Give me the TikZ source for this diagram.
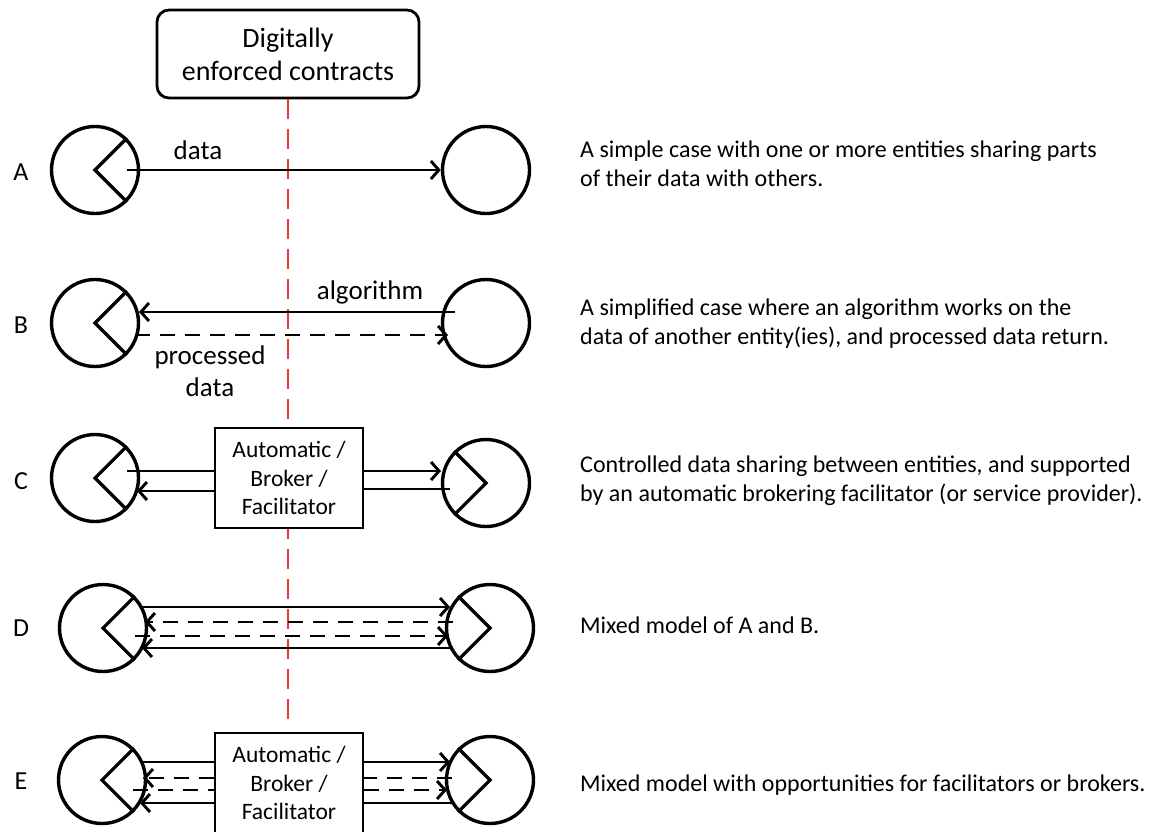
\documentclass[tikz,border=0pt]{standalone}
\usepackage{fontspec}
\setmainfont{Carlito}
\usetikzlibrary{arrows.meta,calc}
\definecolor{contractred}{RGB}{228,58,58}
\begin{document}
\begin{tikzpicture}[x=1pt,y=-1pt,
  party/.style={circle,draw,line width=3.4pt,minimum size=87pt,inner sep=0pt},
  flow/.style={line width=2.9pt},
  flowdash/.style={line width=2.9pt,dash pattern=on 15pt off 10pt},
  endtip/.style={-{Straight Barb[length=8pt,width=18pt]}},
  broker/.style={draw,line width=2.4pt,fill=white,minimum width=148pt,minimum height=100pt,
    align=center,inner sep=0pt,font=\fontsize{23.5}{28.5}\selectfont},
  rowlabel/.style={font=\fontsize{26}{30}\selectfont},
  flowlabel/.style={font=\fontsize{27}{32}\selectfont,align=center},
  caption/.style={anchor=base west,inner sep=0pt,font=\fontsize{24}{29}\selectfont},
]
\useasboundingbox (0,0) rectangle (1153,831);

% contract box and the boundary line below it
\node[draw,line width=2.8pt,rounded corners=12pt,minimum width=262pt,minimum height=88pt,
  align=center,inner sep=0pt,font=\fontsize{28}{33}\selectfont] (top) at (288,54)
  {Digitally\\enforced contracts};
\coordinate (redend) at (288,727);
\draw[contractred,line width=2.7pt,dash pattern=on 20pt off 10pt] (top.south) -- (redend);

% row letters
\node[rowlabel] (lA) at (21,172) {A};
\node[rowlabel] (lB) at (21,325) {B};
\node[rowlabel] (lC) at (21,481) {C};
\node[rowlabel] (lD) at (21,628) {D};
\node[rowlabel] (lE) at (21,781) {E};

% entities
\node[party] (aL) at (95,170) {};
\node[party] (aR) at (486,170) {};
\node[party] (bL) at (95,323) {};
\node[party] (bR) at (486,323) {};
\node[party] (cL) at (95,478) {};
\node[party] (cR) at (486,483) {};
\node[party] (dL) at (103,628) {};
\node[party] (dR) at (490,628) {};
\node[party] (eL) at (102,780) {};
\node[party] (eR) at (490,780) {};

% wedges inside the entities
\foreach \n in {aL,bL,cL,dL,eL}
  \draw[line width=3.2pt] (\n.45) -- (\n.center) -- (\n.-45);
\foreach \n in {cR,dR,eR}
  \draw[line width=3.2pt] (\n.135) -- (\n.center) -- (\n.-135);

% brokers
\node[broker] (cB) at (289,478) {Automatic /\\Broker /\\Facilitator};
\node[broker] (eB) at (289,783) {Automatic /\\Broker /\\Facilitator};

% A
\draw[flow,endtip] ($(aL.center)+(32,0)$) -- (aR.west);
\node[flowlabel] (ldata) at (198,150) {data};

% B
\draw[flow,endtip] ($(bR.center)+(-31,-11)$) -- ($(bL.center)+(44,-11)$);
\draw[flowdash,endtip] ($(bL.center)+(40,12)$) -- ($(bR.center)+(-38,12)$);
\node[flowlabel] (lalg) at (370,292) {algorithm};
\node[flowlabel] (lproc) at (210,371) {processed\\data};

% C
\draw[flow] ($(cL.center)+(32,-7)$) -- ($(cB.west)+(0,-7)$);
\draw[flow,endtip] ($(cB.west)+(0,13)$) -- ($(cL.center)+(42,13)$);
\draw[flow,endtip] ($(cB.east)+(0,-7)$) -- ($(cR.center)+(-45,-12)$);
\draw[flow] ($(cR.center)+(-36,6)$) -- ($(cB.east)+(0,11)$);

% D
\draw[flow,endtip] ($(dL.center)+(40,-21)$) -- ($(dR.center)+(-40,-21)$);
\draw[flowdash,endtip] ($(dR.center)+(-37,-6)$) -- ($(dL.center)+(42,-6)$);
\draw[flowdash,endtip] ($(dL.center)+(32,8)$) -- ($(dR.center)+(-42,8)$);
\draw[flow,endtip] ($(dR.center)+(-37,20)$) -- ($(dL.center)+(39,20)$);

% E, left side
\draw[flow] ($(eL.center)+(38,-18)$) -- ($(eB.west)+(0,-21)$);
\draw[flowdash,endtip] ($(eB.west)+(0,-5)$) -- ($(eL.center)+(41,-2)$);
\draw[flowdash] ($(eL.center)+(31,10)$) -- ($(eB.west)+(0,7)$);
\draw[flow,endtip] ($(eB.west)+(0,20)$) -- ($(eL.center)+(38,23)$);
% E, right side
\draw[flow,endtip] ($(eB.east)+(0,-21)$) -- ($(eR.center)+(-40,-18)$);
\draw[flowdash] ($(eR.center)+(-38,-2)$) -- ($(eB.east)+(0,-5)$);
\draw[flowdash,endtip] ($(eB.east)+(0,7)$) -- ($(eR.center)+(-43,10)$);
\draw[flow] ($(eR.center)+(-38,23)$) -- ($(eB.east)+(0,20)$);

% descriptions
\node[caption] (tA1) at (580,157) {A simple case with one or more entities sharing parts};
\node[caption] (tA2) at (580,186) {of their data with others.};
\node[caption] (tB1) at (580,315) {A simplified case where an algorithm works on the};
\node[caption] (tB2) at (580,344) {data of another entity(ies), and processed data return.};
\node[caption] (tC1) at (580,472) {Controlled data sharing between entities, and supported};
\node[caption] (tC2) at (580,501) {by an automatic brokering facilitator (or service provider).};
\node[caption] (tD) at (580,633) {Mixed model of A and B.};
\node[caption] (tE) at (580,791) {Mixed model with opportunities for facilitators or brokers.};
\end{tikzpicture}
\end{document}
